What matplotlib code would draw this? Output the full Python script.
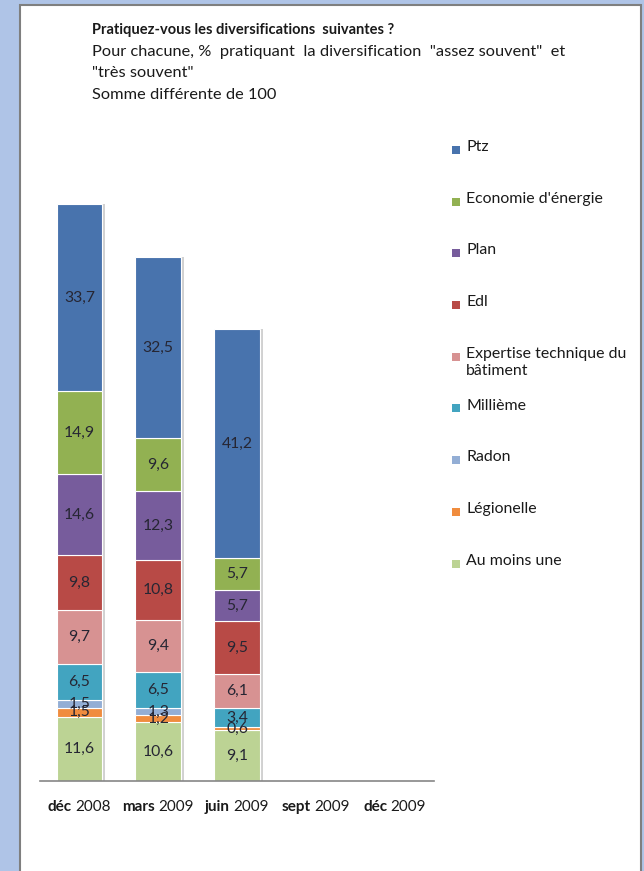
import matplotlib
matplotlib.use("Agg")
import matplotlib.pyplot as plt
import matplotlib.patheffects as pe
from matplotlib.patches import Rectangle
from matplotlib.offsetbox import TextArea, HPacker, AnnotationBbox
import numpy as np

plt.rcParams["font.family"] = ["Lato", "DejaVu Sans"]

# ---- data ---------------------------------------------------------------
months = ["déc", "mars", "juin", "sept", "déc"]
years = ["2008", "2009", "2009", "2009", "2009"]

# bottom -> top stacking order
au_moins_une = [11.6, 10.6, 9.1]
legionelle = [1.5, 1.2, 0.6]
radon = [1.5, 1.3, 0.0]
millieme = [6.5, 6.5, 3.4]
expertise = [9.7, 9.4, 6.1]
edl = [9.8, 10.8, 9.5]
plan = [14.6, 12.3, 5.7]
economie = [14.9, 9.6, 5.7]
ptz = [33.7, 32.5, 41.2]

stack = [
    ("Au moins une", au_moins_une, "#BCD394"),
    ("Légionelle", legionelle, "#F08C3E"),
    ("Radon", radon, "#93AED5"),
    ("Millième", millieme, "#42A4C0"),
    ("Expertise technique du\nbâtiment", expertise, "#D79292"),
    ("Edl", edl, "#B84A46"),
    ("Plan", plan, "#775C9C"),
    ("Economie d'énergie", economie, "#92B152"),
    ("Ptz", ptz, "#4873AD"),
]

W, H = 644, 871
fig = plt.figure(figsize=(W / 100, H / 100), dpi=100)
fig.patch.set_facecolor("#AFC4E7")

def fx(x): return x / W
def fy(y): return 1 - y / H

# white panel with grey frame
fig.patches.append(Rectangle((fx(20), -0.01), fx(641) - fx(20), fy(5) + 0.01, transform=fig.transFigure,
                             facecolor="white", edgecolor="#7F7F7F", linewidth=1.5, zorder=-10))

# title
tcol = "#1a1a1a"
fig.text(fx(92), fy(30), "Pratiquez-vous les diversifications  suivantes ?", fontsize=10.5,
         fontweight="bold", color=tcol, va="center")
fig.text(fx(92), fy(52), "Pour chacune, %  pratiquant  la diversification  \"assez souvent\"  et",
         fontsize=11.8, color=tcol, va="center")
fig.text(fx(92), fy(73), "\"très souvent\"", fontsize=11.8, color=tcol, va="center")
fig.text(fx(92), fy(95), "Somme différente de 100", fontsize=11.8, color=tcol, va="center")

# axes
ax = fig.add_axes([fx(40), fy(781), fx(434) - fx(40), (781 - 114) / H])
ax.set_facecolor("none")
x = np.arange(3)
bottom = np.zeros(3)
for name, vals, col in stack:
    v = np.array(vals)
    bars = ax.bar(x, v, 0.58, bottom=bottom, color=col, edgecolor="white", linewidth=0.8, zorder=2)
    for b in bars:
        b.set_path_effects([pe.SimplePatchShadow(offset=(2, 0), shadow_rgbFace=(0.6, 0.6, 0.6),
                                                 alpha=0.45), pe.Normal()])
    for i in range(3):
        if v[i] > 0:
            ax.text(x[i], bottom[i] + v[i] / 2, f"{v[i]:.1f}".replace(".", ","),
                    ha="center", va="center", fontsize=11.3, color="#262633", zorder=3)
    bottom = bottom + v

ax.set_xlim(-0.5, 4.5)
ax.set_ylim(0, 120)
ax.set_xticks([])
ax.set_yticks([])
for s in ["top", "right", "left"]:
    ax.spines[s].set_visible(False)
ax.spines["bottom"].set_color("#868686")
ax.spines["bottom"].set_linewidth(1.2)

# category labels: bold month + regular year
for i, (m, yv) in enumerate(zip(months, years)):
    pk = HPacker(children=[TextArea(m, textprops=dict(fontsize=11, fontweight="bold", color=tcol)),
                           TextArea(yv, textprops=dict(fontsize=11, color=tcol))],
                 pad=0, sep=2.5, align="baseline")
    ab = AnnotationBbox(pk, (i, 0), xycoords=ax.get_xaxis_transform(), xybox=(0, -19),
                        boxcoords="offset points", frameon=False, box_alignment=(0.5, 0.5))
    ax.add_artist(ab)

# legend (top -> bottom)
for k, (name, vals, col) in enumerate(stack[::-1]):
    yy = 150 + k * 51.7
    fig.patches.append(Rectangle((fx(452), fy(yy + 4)), fx(8), 8 / H, transform=fig.transFigure,
                                 facecolor=col, edgecolor="none"))
    fig.text(fx(466), fy(yy - 10), name, fontsize=11.4, color=tcol, va="top", linespacing=1.3)

fig.savefig("out.png", dpi=100)
